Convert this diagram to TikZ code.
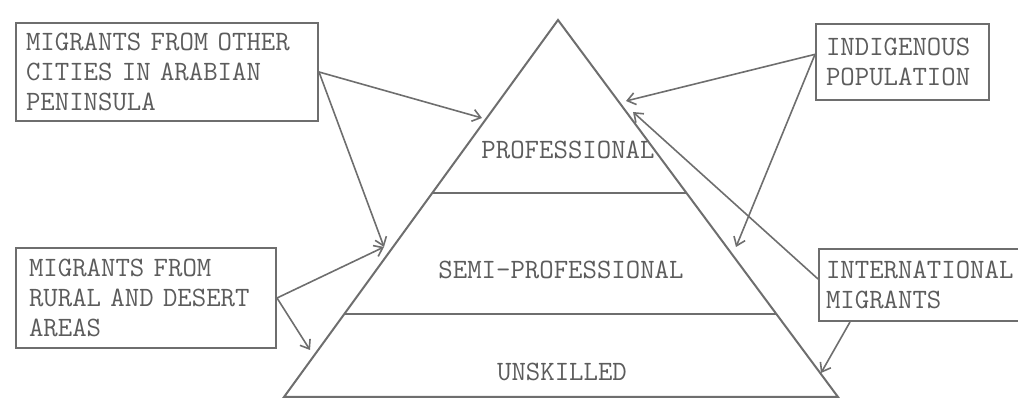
\documentclass[tikz,border=0pt]{standalone}
\usepackage{fontspec}
\usepackage{tikz}
\usetikzlibrary{arrows.meta}
\definecolor{inkgray}{HTML}{6E6E6E}
\definecolor{textgray}{HTML}{5C5C5C}

\begin{document}
\begin{tikzpicture}[x=0.5pt, y=-0.5pt,
    every node/.style={font=\ttfamily\fontsize{14}{14.8}\selectfont, text=textgray},
    source/.style={rectangle, draw=inkgray, line width=1pt, align=left, inner xsep=5pt, anchor=north west},
    layer/.style={inner sep=1pt},
    pyr/.style={draw=inkgray, line width=1pt},
    flow/.style={-{Straight Barb[length=4pt, width=6pt]}, line width=0.8pt, draw=inkgray}
]
\useasboundingbox (0,0) rectangle (1018,400);

% Sources
\node[source, text width=141pt, minimum height=49pt] (src1) at (15,22) {MIGRANTS FROM OTHER\\CITIES IN ARABIAN\\PENINSULA};
\node[source, text width=117pt, minimum height=50pt, inner xsep=6.5pt] (src2) at (15,247) {MIGRANTS FROM\\RURAL AND DESERT\\AREAS};
\node[source, text width=76.5pt, minimum height=38pt] (src3) at (815,23) {INDIGENOUS\\POPULATION};
\node[source, text width=100pt, minimum height=36pt, inner xsep=3.5pt] (src4) at (818,248) {INTERNATIONAL\\MIGRANTS};

% Pyramid
\coordinate (apex)  at (558,20);
\coordinate (baseL) at (284,397);
\coordinate (baseR) at (838,397);
\coordinate (proL)  at (433,193);
\coordinate (proR)  at (686,193);
\coordinate (semL)  at (345,314);
\coordinate (semR)  at (776,314);
\draw[pyr] (apex) -- (baseR) -- (baseL) -- cycle;
\draw[pyr] (proL) -- (proR);
\draw[pyr] (semL) -- (semR);

\node[layer] (pro) at (568,150) {PROFESSIONAL};
\node[layer] (sem) at (561,270) {SEMI-PROFESSIONAL};
\node[layer] (uns) at (562,372) {UNSKILLED};

% Arrow ends on the pyramid
\coordinate (t1) at (482,118);
\coordinate (t2) at (384,247);
\coordinate (t3) at (310,350);
\coordinate (t4) at (626,101);
\coordinate (t5) at (736,247);
\coordinate (t6) at (633,112);
\coordinate (t7) at (821,373);

% Flows into the strata
\draw[flow] (src1.east) -- (t1);
\draw[flow] (src1.east) -- (t2);
\draw[flow] (src2.east) -- (t2);
\draw[flow] (src2.east) -- (t3);
\draw[flow] (src3.175) -- (t4);
\draw[flow] (src3.175) -- (t5);
\draw[flow] ([yshift=3pt]src4.west) -- (t6);
\draw[flow] ([xshift=16pt]src4.south west) -- (t7);
\end{tikzpicture}
\end{document}
